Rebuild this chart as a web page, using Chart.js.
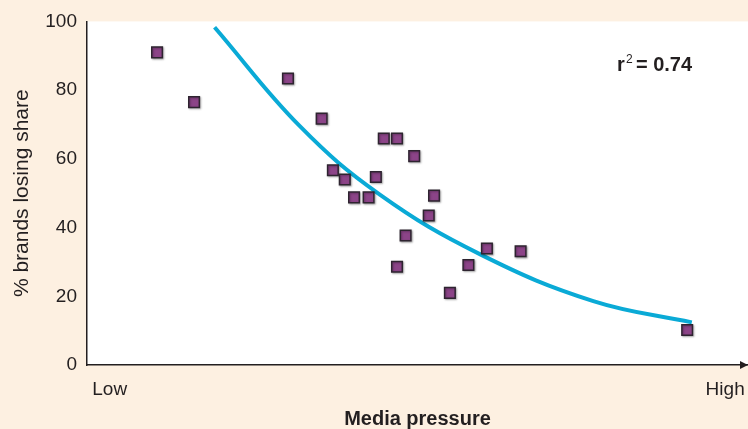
<!DOCTYPE html>
<html>
<head>
<meta charset="utf-8">
<script src="https://cdn.jsdelivr.net/npm/chart.js@4.4.1/dist/chart.umd.min.js"></script>
<style>
  html, body { margin: 0; padding: 0; background: #fdf0e1; }
  #wrap { width: 748px; height: 429px; }
</style>
</head>
<body>
<div id="wrap"><canvas id="chart" width="748" height="429"></canvas></div>
<script>
// brands (x is relative media pressure, 0 = Low, 100 = High)
var mediaPressure = [10.6, 16.2, 30.4, 35.5, 44.9, 46.9, 49.5, 37.2, 39.0, 43.7, 40.4,
                     42.6, 52.5, 51.7, 48.2, 46.9, 60.5, 65.6, 57.7, 54.9, 90.8];
var brandsLosing  = [91.0, 76.5, 83.4, 71.7, 65.9, 65.9, 60.8, 56.7, 54.0, 54.7, 48.8,
                     48.8, 49.3, 43.5, 37.7, 28.6, 33.9, 33.1, 29.1, 21.0, 10.2];

// fitted trend curve
var fitX = [19.3, 32.2, 44.3, 59.5, 76.6, 91.5];
var fitY = [98.3, 69.5, 49.6, 32.2, 18.6, 12.4];

var xTickLabels = ['Low', 'High'];
var rSquared = '0.74';

var ink = '#231f20';
var fontFam = '"Liberation Sans", Arial, Helvetica, sans-serif';

function toPoints(xs, ys) {
    var out = [];
    for (var i = 0; i < xs.length; i++) out.push({ x: xs[i], y: ys[i] });
    return out;
}

var backdrop = {
    id: 'backdrop',
    beforeDraw: function (chart) {
        var ctx = chart.ctx, a = chart.chartArea;
        ctx.save();
        ctx.fillStyle = '#fdf0e1';
        ctx.fillRect(0, 0, chart.width, chart.height);
        ctx.fillStyle = '#ffffff';
        ctx.fillRect(a.left, a.top, chart.width - a.left, a.bottom - a.top);
        ctx.restore();
    },
    beforeDatasetDraw: function (chart, args) {
        if (args.index !== 0) return;
        var ctx = chart.ctx;
        ctx.save();
        ctx.shadowColor = 'rgba(0,0,0,0.3)';
        ctx.shadowBlur = 2;
        ctx.shadowOffsetX = 1;
        ctx.shadowOffsetY = 1;
    },
    afterDatasetDraw: function (chart, args) {
        if (args.index !== 0) return;
        chart.ctx.restore();
    },
    afterDraw: function (chart) {
        var ctx = chart.ctx, a = chart.chartArea;
        var xs = chart.scales.x, ys = chart.scales.y;
        ctx.save();
        // arrow head at the end of the x axis
        ctx.fillStyle = ink;
        ctx.beginPath();
        ctx.moveTo(chart.width, a.bottom);
        ctx.lineTo(chart.width - 8, a.bottom - 4);
        ctx.lineTo(chart.width - 8, a.bottom + 4);
        ctx.closePath();
        ctx.fill();
        // r squared note
        var px = xs.getPixelForValue(80.2);
        var py = ys.getPixelForValue(85.6);
        ctx.textBaseline = 'alphabetic';
        ctx.textAlign = 'left';
        ctx.font = 'bold 20px ' + fontFam;
        ctx.fillText('r', px, py);
        var w = ctx.measureText('r').width;
        ctx.font = '12px ' + fontFam;
        ctx.fillText('2', px + w + 1, py - 8);
        ctx.font = 'bold 20px ' + fontFam;
        ctx.fillText('= ' + rSquared, px + w + 11, py);
        ctx.restore();
    }
};

new Chart(document.getElementById('chart'), {
    type: 'scatter',
    data: {
        datasets: [
            {
                label: 'Brands',
                data: toPoints(mediaPressure, brandsLosing),
                pointStyle: 'rect',
                pointRadius: 7.5,
                pointHoverRadius: 7.5,
                backgroundColor: '#8c4488',
                borderColor: '#2e2430',
                borderWidth: 1.5
            },
            {
                label: 'Trend',
                type: 'line',
                data: toPoints(fitX, fitY),
                showLine: true,
                borderColor: '#0aaad6',
                borderWidth: 4,
                borderCapStyle: 'butt',
                tension: 0.4,
                pointRadius: 0,
                fill: false
            }
        ]
    },
    options: {
        responsive: false,
        animation: false,
        events: [],
        layout: { autoPadding: false, padding: { top: 21, right: 0, bottom: 0, left: 0 } },
        plugins: {
            legend: { display: false },
            tooltip: { enabled: false },
            title: { display: false }
        },
        scales: {
            x: {
                type: 'linear',
                min: 0,
                max: 100,
                afterFit: function (s) { s.height = 64; s.paddingLeft = 0; s.paddingRight = 0; },
                // the two end labels sit just inside the axis ends
                afterBuildTicks: function (s) { s.ticks = [{ value: 0.8 }, { value: 99.5 }]; },
                grid: { display: false, drawTicks: false },
                border: { display: true, color: ink, width: 1.5 },
                ticks: {
                    align: 'inner',
                    padding: 13,
                    color: ink,
                    font: { family: fontFam, size: 19 },
                    callback: function (v, i) { return xTickLabels[i]; }
                },
                title: {
                    display: true,
                    text: 'Media pressure',
                    color: ink,
                    padding: { top: 0, bottom: 0 },
                    font: { family: fontFam, size: 20, weight: 'bold', lineHeight: 1 }
                }
            },
            y: {
                min: 0,
                max: 100,
                afterFit: function (s) { s.width = 87; },
                grid: { display: false, drawTicks: false },
                border: { display: true, color: ink, width: 1.5 },
                ticks: {
                    stepSize: 20,
                    padding: 10,
                    color: ink,
                    font: { family: fontFam, size: 19 }
                },
                title: {
                    display: true,
                    text: '% brands losing share',
                    color: ink,
                    padding: { top: 10, bottom: 0 },
                    font: { family: fontFam, size: 21, lineHeight: 1.2 }
                }
            }
        }
    },
    plugins: [backdrop]
});
</script>
</body>
</html>
